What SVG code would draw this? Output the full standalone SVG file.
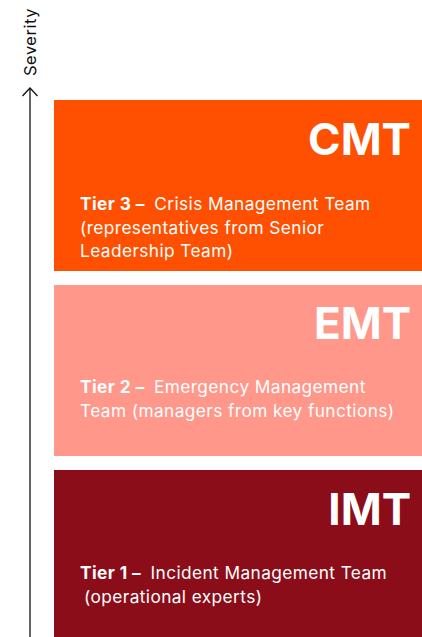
<svg xmlns="http://www.w3.org/2000/svg" width="422" height="637" viewBox="0 0 422 637">
<style>
.title{font-family:Inter,"Liberation Sans",sans-serif;font-weight:700;font-size:44px;fill:#fff;text-anchor:end}
.body{font-family:Inter,"Liberation Sans",sans-serif;font-size:17.3px;letter-spacing:0.4px;fill:#fff}
.b{font-weight:700}
.axis{stroke:#111;stroke-width:1.3;fill:none}
</style>
<rect width="422" height="637" fill="#fff"/>
<g id="connectors">
<line class="axis" x1="30" y1="88" x2="30" y2="637"/>
<polyline class="axis" points="22.5,96 30,88 37.5,96"/>
<text font-family="Inter,'Liberation Sans',sans-serif" font-size="16.5" letter-spacing="0.5" fill="#111" transform="translate(35.5,76) rotate(-90)">Severity</text>
</g>
<g id="cmt">
<rect x="54" y="100" width="368" height="171" fill="#FF4F00"/>
<text class="title" x="411" y="155">CMT</text>
<text class="body" x="80" y="210"><tspan class="b">Tier 3 – </tspan><tspan dx="5">Crisis Management Team</tspan></text>
<text class="body" x="80" y="233.5">(representatives from Senior</text>
<text class="body" x="80" y="257">Leadership Team)</text>
</g>
<g id="emt">
<rect x="54" y="285" width="368" height="171" fill="#FF978A"/>
<text class="title" x="411" y="339">EMT</text>
<text class="body" x="80" y="393"><tspan class="b">Tier 2 – </tspan><tspan dx="5">Emergency Management</tspan></text>
<text class="body" x="80" y="416.5">Team (managers from key functions)</text>
</g>
<g id="imt">
<rect x="54" y="470" width="368" height="167" fill="#8A0D19"/>
<text class="title" x="411" y="525">IMT</text>
<text class="body" x="80" y="579"><tspan class="b">Tier 1 – </tspan><tspan dx="5">Incident Management Team</tspan></text>
<text class="body" x="84" y="603">(operational experts)</text>
</g>
</svg>
